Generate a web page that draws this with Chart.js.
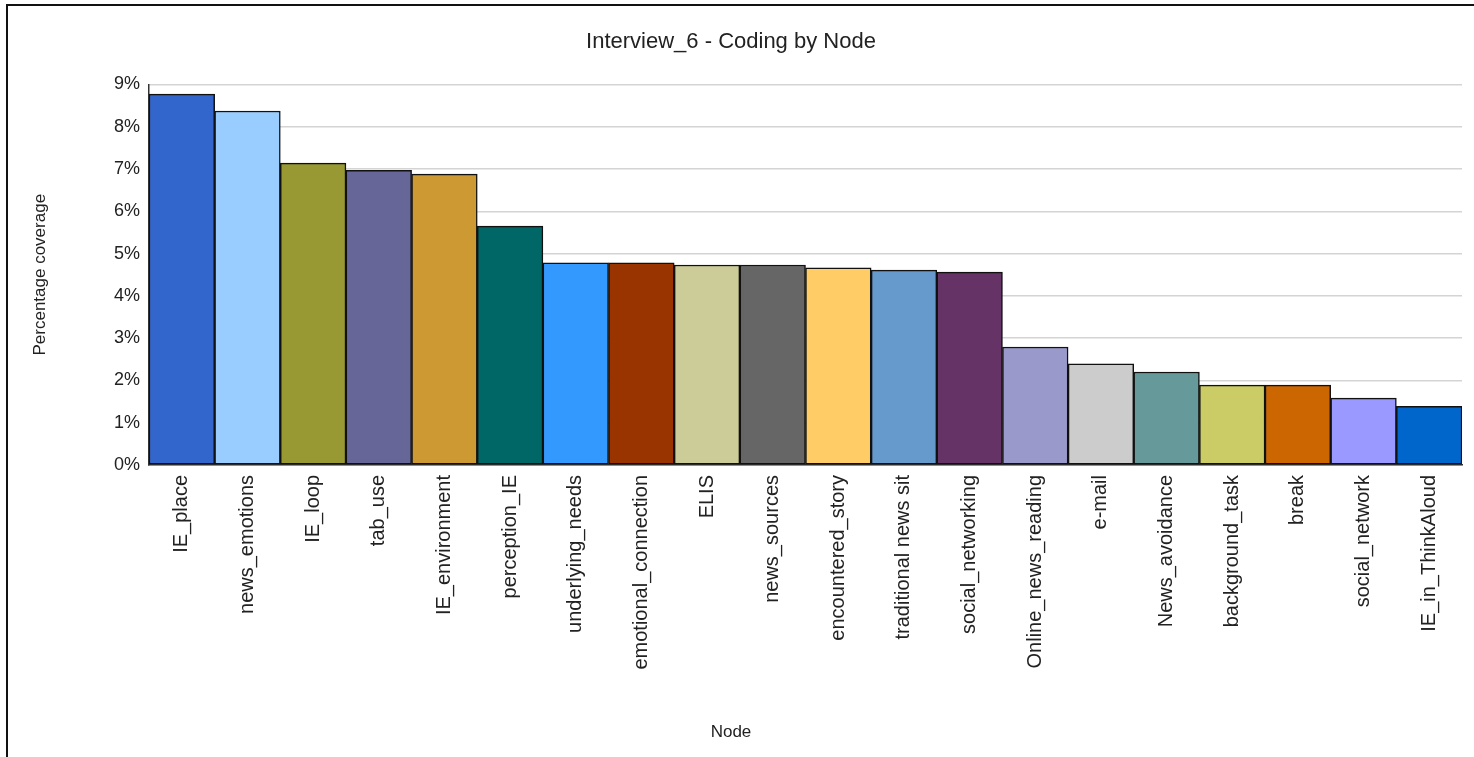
<!DOCTYPE html>
<html lang="en">
<head>
  <meta charset="UTF-8" />
  <title>Interview_6 - Coding by Node</title>
  <script src="https://cdn.jsdelivr.net/npm/chart.js"></script>
  <style>
    html, body {
      margin: 0;
      padding: 0;
      background: #fff;
    }

    .frame {
      position: absolute;
      left: 6px;
      top: 4px;
      width: 1468px;
      height: 753px;
      border-left: 2px solid #111;
      border-top: 2px solid #111;
      pointer-events: none;
    }

    .wrap {
      position: absolute;
      left: 0;
      top: 0;
      width: 1474px;
      height: 757px;
    }
  </style>
</head>
<body>
  <div class="wrap">
    <canvas id="myChart" width="1474" height="757"></canvas>
  </div>
  <div class="frame"></div>

  <script>
    // node names along the x axis
    const nodes = [
      'IE_place', 'news_emotions', 'IE_loop', 'tab_use', 'IE_environment',
      'perception_IE', 'underlying_needs', 'emotional_connection', 'ELIS',
      'news_sources', 'encountered_story', 'traditional news sit',
      'social_networking', 'Online_news_reading', 'e-mail', 'News_avoidance',
      'background_task', 'break', 'social_network', 'IE_in_ThinkAloud'
    ];

    // percentage coverage
    const coverage = [
      8.77, 8.37, 7.14, 6.97, 6.88,
      5.65, 4.78, 4.78, 4.73,
      4.73, 4.66, 4.61,
      4.56, 2.79, 2.39, 2.20,
      1.89, 1.89, 1.58, 1.39
    ];

    const barColors = [
      '#3366CC', '#99CCFF', '#999933', '#666699', '#CC9933',
      '#006666', '#3399FF', '#993300', '#CCCC99',
      '#666666', '#FFCC66', '#6699CC',
      '#663366', '#9999CC', '#CCCCCC', '#669999',
      '#CCCC66', '#CC6600', '#9999FF', '#0066CC'
    ];

    const yTicks = [0, 1, 2, 3, 4, 5, 6, 7, 8, 9];

    const fontFamily = "'Liberation Sans', Arial, sans-serif";

    const ctx = document.getElementById('myChart').getContext('2d');

    new Chart(ctx, {
      type: 'bar',
      data: {
        labels: nodes,
        datasets: [{
          label: 'Percentage coverage',
          data: coverage,
          backgroundColor: barColors,
          borderColor: '#111',
          borderWidth: 1.5,
          borderSkipped: false,
          categoryPercentage: 1,
          barPercentage: 1
        }]
      },
      options: {
        responsive: false,
        animation: false,
        layout: {
          padding: { left: 0, right: 12, top: 0, bottom: 0 }
        },
        scales: {
          x: {
            grid: { display: false, drawTicks: false },
            border: { display: true, color: '#333', width: 1.5 },
            ticks: {
              autoSkip: false,
              minRotation: 90,
              maxRotation: 90,
              padding: 10,
              color: '#222',
              font: { family: fontFamily, size: 20 }
            },
            // "Node" is drawn as a bottom subtitle so it centres on the whole canvas
            afterFit: (scale) => { scale.height = 257.6; }
          },
          y: {
            min: 0,
            max: 9,
            afterBuildTicks: (scale) => {
              scale.ticks = yTicks.map(v => ({ value: v }));
            },
            grid: { color: '#d4d4d4', lineWidth: 1.5, drawTicks: false },
            border: { display: true, color: '#333', width: 1.5 },
            ticks: {
              padding: 9,
              color: '#222',
              font: { family: fontFamily, size: 18 },
              callback: (v) => v + '%'
            },
            title: {
              display: true,
              text: 'Percentage coverage',
              color: '#222',
              font: { family: fontFamily, size: 17 },
              padding: { top: 30, bottom: 0 }
            },
            afterFit: (scale) => { scale.width = 149; }
          }
        },
        plugins: {
          legend: { display: false },
          tooltip: { enabled: false },
          title: {
            display: true,
            text: 'Interview_6 - Coding by Node',
            color: '#222',
            font: { family: fontFamily, size: 22, weight: 'normal' },
            padding: { top: 29, bottom: 29 }
          },
          subtitle: {
            display: true,
            position: 'bottom',
            text: 'Node',
            color: '#222',
            font: { family: fontFamily, size: 17, weight: 'normal' },
            padding: { top: 0, bottom: 14 }
          }
        }
      }
    });
  </script>
</body>
</html>
